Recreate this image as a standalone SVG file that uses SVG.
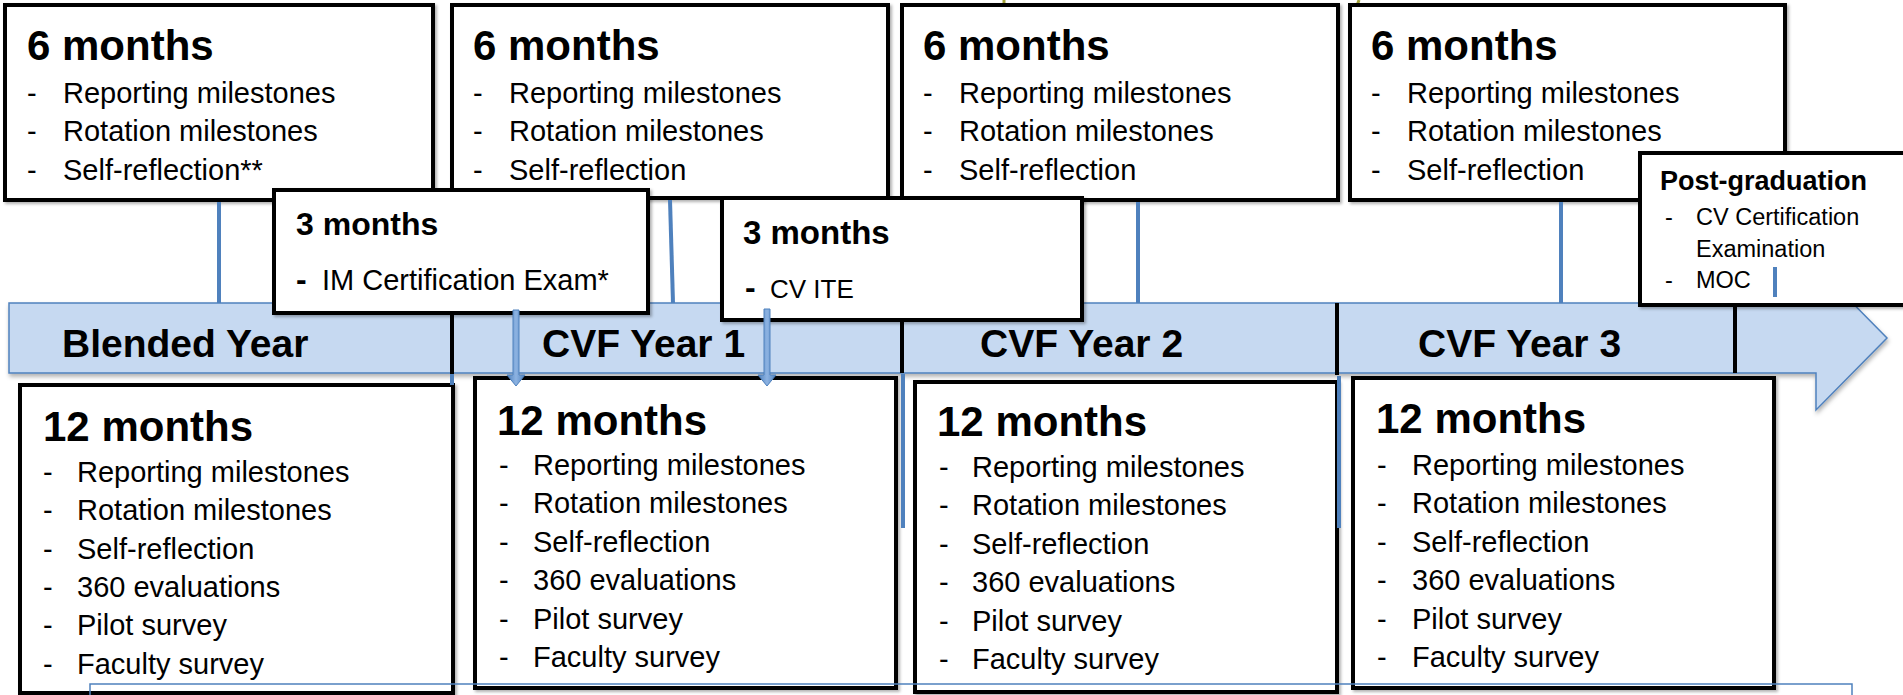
<svg xmlns="http://www.w3.org/2000/svg" width="1903" height="695" viewBox="0 0 1903 695">
<style>
.box{fill:#fff;stroke:#000;stroke-width:4;filter:url(#sh)}
.t{font-family:"Liberation Sans",Arial,sans-serif;fill:#000}
.h{font-weight:bold;font-size:42px}
.i{font-size:29px}
.yl{font-weight:bold;font-size:39px}
.conn{stroke:#4f81bd;stroke-width:4;fill:none}
.sep{stroke:#000;stroke-width:4}
.olive{stroke:#a3a33a;stroke-width:3}
</style>
<defs>
<filter id="sh" x="-5%" y="-5%" width="115%" height="115%">
<feDropShadow dx="2" dy="2" stdDeviation="1.5" flood-color="#000" flood-opacity="0.3"/>
</filter>
<filter id="bsh" x="-2%" y="-10%" width="104%" height="130%">
<feDropShadow dx="1" dy="3" stdDeviation="2" flood-color="#000" flood-opacity="0.3"/>
</filter>
<linearGradient id="ag" x1="0" y1="0" x2="1" y2="0">
<stop offset="0" stop-color="#4f81bd"/>
<stop offset="0.5" stop-color="#8db3e2"/>
<stop offset="1" stop-color="#4f81bd"/>
</linearGradient>
</defs>

<g id="olive-marks">
<line class="olive" x1="1004" y1="0" x2="1004" y2="5"/>
<line class="olive" x1="1359" y1="0" x2="1355" y2="11"/>
</g>

<g id="timeline">
<polygon points="9,303 1816,303 1816,266 1887,338 1816,410 1816,373 9,373" fill="#c6d9f1" stroke="#4f81bd" stroke-width="1.5" filter="url(#bsh)"/>
<text class="t yl" x="62" y="357" font-size="41">Blended Year</text>
<text class="t yl" x="542" y="357">CVF Year 1</text>
<text class="t yl" x="980" y="357">CVF Year 2</text>
<text class="t yl" x="1418" y="357">CVF Year 3</text>
</g>

<g id="six-months-1">
<rect class="box" x="5" y="5" width="428" height="195"/>
<text class="t h" x="27" y="60">6 months</text>
<text class="t i"><tspan x="27" y="103">-</tspan><tspan x="63" y="103">Reporting milestones</tspan><tspan x="27" y="141">-</tspan><tspan x="63" y="141">Rotation milestones</tspan><tspan x="27" y="180">-</tspan><tspan x="63" y="180">Self-reflection**</tspan></text>
</g>
<g id="six-months-2">
<rect class="box" x="452" y="5" width="436" height="193"/>
<text class="t h" x="473" y="60">6 months</text>
<text class="t i"><tspan x="473" y="103">-</tspan><tspan x="509" y="103">Reporting milestones</tspan><tspan x="473" y="141">-</tspan><tspan x="509" y="141">Rotation milestones</tspan><tspan x="473" y="180">-</tspan><tspan x="509" y="180">Self-reflection</tspan></text>
</g>
<g id="six-months-3">
<rect class="box" x="902" y="5" width="436" height="195"/>
<text class="t h" x="923" y="60">6 months</text>
<text class="t i"><tspan x="923" y="103">-</tspan><tspan x="959" y="103">Reporting milestones</tspan><tspan x="923" y="141">-</tspan><tspan x="959" y="141">Rotation milestones</tspan><tspan x="923" y="180">-</tspan><tspan x="959" y="180">Self-reflection</tspan></text>
</g>
<g id="six-months-4">
<rect class="box" x="1350" y="5" width="435" height="195"/>
<text class="t h" x="1371" y="60">6 months</text>
<text class="t i"><tspan x="1371" y="103">-</tspan><tspan x="1407" y="103">Reporting milestones</tspan><tspan x="1371" y="141">-</tspan><tspan x="1407" y="141">Rotation milestones</tspan><tspan x="1371" y="180">-</tspan><tspan x="1407" y="180">Self-reflection</tspan></text>
</g>

<g id="twelve-months-1">
<rect class="box" x="20" y="385" width="433" height="308"/>
<text class="t h" x="43" y="441">12 months</text>
<text class="t i"><tspan x="43" y="482">-</tspan><tspan x="77" y="482">Reporting milestones</tspan><tspan x="43" y="520">-</tspan><tspan x="77" y="520">Rotation milestones</tspan><tspan x="43" y="559">-</tspan><tspan x="77" y="559">Self-reflection</tspan><tspan x="43" y="597">-</tspan><tspan x="77" y="597">360 evaluations</tspan><tspan x="43" y="635">-</tspan><tspan x="77" y="635">Pilot survey</tspan><tspan x="43" y="674">-</tspan><tspan x="77" y="674">Faculty survey</tspan></text>
</g>
<g id="twelve-months-2">
<rect class="box" x="475" y="378" width="421" height="310"/>
<text class="t h" x="497" y="435">12 months</text>
<text class="t i"><tspan x="499" y="475">-</tspan><tspan x="533" y="475">Reporting milestones</tspan><tspan x="499" y="513">-</tspan><tspan x="533" y="513">Rotation milestones</tspan><tspan x="499" y="552">-</tspan><tspan x="533" y="552">Self-reflection</tspan><tspan x="499" y="590">-</tspan><tspan x="533" y="590">360 evaluations</tspan><tspan x="499" y="629">-</tspan><tspan x="533" y="629">Pilot survey</tspan><tspan x="499" y="667">-</tspan><tspan x="533" y="667">Faculty survey</tspan></text>
</g>
<g id="twelve-months-3">
<rect class="box" x="915" y="382" width="422" height="310"/>
<text class="t h" x="937" y="436">12 months</text>
<text class="t i"><tspan x="939" y="477">-</tspan><tspan x="972" y="477">Reporting milestones</tspan><tspan x="939" y="515">-</tspan><tspan x="972" y="515">Rotation milestones</tspan><tspan x="939" y="554">-</tspan><tspan x="972" y="554">Self-reflection</tspan><tspan x="939" y="592">-</tspan><tspan x="972" y="592">360 evaluations</tspan><tspan x="939" y="631">-</tspan><tspan x="972" y="631">Pilot survey</tspan><tspan x="939" y="669">-</tspan><tspan x="972" y="669">Faculty survey</tspan></text>
</g>
<g id="twelve-months-4">
<rect class="box" x="1353" y="378" width="421" height="310"/>
<text class="t h" x="1376" y="433">12 months</text>
<text class="t i"><tspan x="1377" y="475">-</tspan><tspan x="1412" y="475">Reporting milestones</tspan><tspan x="1377" y="513">-</tspan><tspan x="1412" y="513">Rotation milestones</tspan><tspan x="1377" y="552">-</tspan><tspan x="1412" y="552">Self-reflection</tspan><tspan x="1377" y="590">-</tspan><tspan x="1412" y="590">360 evaluations</tspan><tspan x="1377" y="629">-</tspan><tspan x="1412" y="629">Pilot survey</tspan><tspan x="1377" y="667">-</tspan><tspan x="1412" y="667">Faculty survey</tspan></text>
</g>

<g id="three-months-1">
<rect class="box" x="274" y="190" width="374" height="123"/>
<text class="t" x="296" y="235" font-weight="bold" font-size="32">3 months</text>
<text class="t" x="296" y="290" font-weight="bold" font-size="32">-</text>
<text class="t" x="322" y="290" font-size="29">IM Certification Exam*</text>
</g>
<g id="three-months-2">
<rect class="box" x="722" y="198" width="360" height="122"/>
<text class="t" x="743" y="244" font-weight="bold" font-size="33">3 months</text>
<text class="t" x="745" y="298" font-weight="bold" font-size="32">-</text>
<text class="t" x="770" y="298" font-size="26">CV ITE</text>
</g>

<g id="post-graduation">
<rect class="box" x="1640" y="153" width="290" height="152"/>
<text class="t" x="1660" y="190" font-weight="bold" font-size="27">Post-graduation</text>
<text class="t" font-size="23.5"><tspan x="1665" y="225">-</tspan><tspan x="1696" y="225">CV Certification</tspan><tspan x="1696" y="257">Examination</tspan><tspan x="1665" y="288">-</tspan><tspan x="1696" y="288">MOC</tspan></text>
</g>

<g id="dividers">
<line class="sep" x1="452" y1="313" x2="452" y2="375"/>
<line class="sep" x1="902" y1="320" x2="902" y2="373"/>
<line class="sep" x1="1337" y1="303" x2="1337" y2="375"/>
<line class="sep" x1="1735" y1="305" x2="1735" y2="373"/>
</g>

<g id="connectors">
<line class="conn" x1="219" y1="202" x2="219" y2="303"/>
<line class="conn" x1="670" y1="200" x2="673" y2="303"/>
<line class="conn" x1="1138" y1="202" x2="1138" y2="303"/>
<line class="conn" x1="1561" y1="202" x2="1561" y2="303"/>
<line class="conn" x1="452" y1="374" x2="452" y2="385"/>
<line class="conn" x1="903" y1="374" x2="903" y2="528"/>
<line class="conn" x1="1339" y1="376" x2="1339" y2="528"/>
<line class="conn" x1="1775" y1="267" x2="1775" y2="297"/>
<path d="M513,310 H519 V375 H525 L516,386 L507,375 H513 Z" fill="url(#ag)" stroke="#4f81bd" stroke-width="1"/>
<path d="M764,309 H770 V375 H776 L767,386 L758,375 H764 Z" fill="url(#ag)" stroke="#4f81bd" stroke-width="1"/>
<path d="M90,700 V684 H1852 V700" fill="none" stroke="#4f81bd" stroke-width="1.5"/>
</g>
</svg>
